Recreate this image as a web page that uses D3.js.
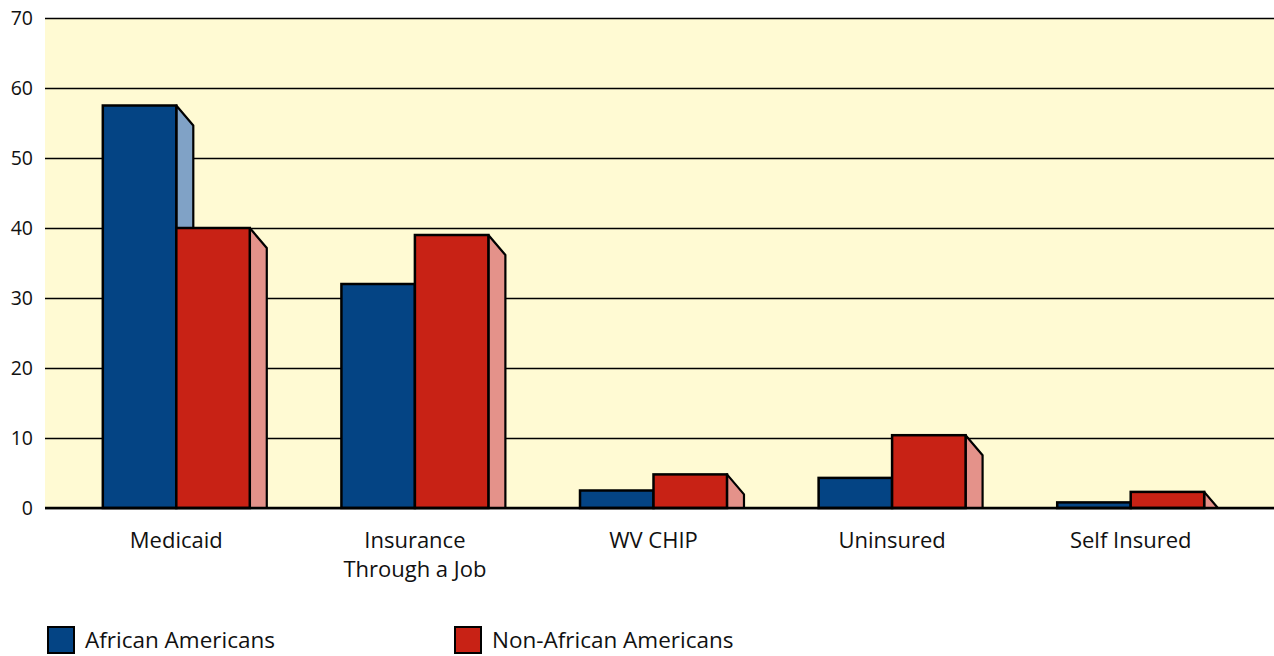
<!DOCTYPE html>
<html><head><meta charset="utf-8">
<script src="https://cdn.jsdelivr.net/npm/d3@7"></script>
<style>body{margin:0;background:#fff;}svg{display:block;}</style>
</head><body>
<svg id="c" width="1274" height="656"></svg>
<script>
const categories = ["Medicaid", "Insurance\nThrough a Job", "WV CHIP", "Uninsured", "Self Insured"];
const seriesNames = ["African Americans", "Non-African Americans"];
const africanAmericans = [57.5, 32, 2.5, 4.3, 0.8];
const nonAfricanAmericans = [40, 39, 4.8, 10.4, 2.3];
const yTicks = [0, 10, 20, 30, 40, 50, 60, 70];

(function () {
const seriesValues = [africanAmericans, nonAfricanAmericans];
const front = ["#044484", "#c82215"];
const side = ["#80a2c6", "#e4928a"];
const font = "Open Sans, Noto Sans, sans-serif";

const svg = d3.select("#c");
const pLeft = 45, pRight = 1274, pTop = 18, pBottom = 508;
const y = d3.scaleLinear().domain([0, 70]).range([pBottom, pTop]);
const x = d3.scaleBand().domain(categories).range([57, 1250]).padding(0);
const bw = x.bandwidth();
const xs = d3.scaleBand().domain(seriesNames).range([bw * 0.192, bw * 0.808]).padding(0);
const dx = 17, dy = 20;

svg.append("rect").attr("x", pLeft).attr("y", pTop).attr("width", pRight - pLeft).attr("height", pBottom - pTop).attr("fill", "#fffad3");

const yAxis = d3.axisLeft(y).tickValues(yTicks).tickSize(-(pRight - pLeft)).tickPadding(12);
const ga = svg.append("g").attr("transform", `translate(${pLeft},0)`).call(yAxis);
ga.select(".domain").remove();
ga.selectAll(".tick line").attr("stroke", "#000").attr("stroke-width", 1.3);
ga.selectAll(".tick text").attr("font-family", font).attr("font-size", 19.5).attr("fill", "#111");

seriesNames.forEach((s, si) => {
  const g = svg.append("g");
  categories.forEach((c, ci) => {
    const v = seriesValues[si][ci];
    const x0 = x(c) + xs(s), x1 = x0 + xs.bandwidth();
    const ty = y(v), by = y(0);
    let pts;
    if (ty + dy <= by) {
      pts = [[x1, ty], [x1 + dx, ty + dy], [x1 + dx, by], [x1, by]];
    } else {
      pts = [[x1, ty], [x1 + dx * (by - ty) / dy, by], [x1, by]];
    }
    g.append("polygon").attr("points", pts.map(p => p.join(",")).join(" "))
      .attr("fill", side[si]).attr("stroke", "#000").attr("stroke-width", 2.2).attr("stroke-linejoin", "round");
    g.append("rect").attr("x", x0).attr("y", ty).attr("width", x1 - x0).attr("height", by - ty)
      .attr("fill", front[si]).attr("stroke", "#000").attr("stroke-width", 2.5);
  });
});

svg.append("line").attr("x1", pLeft).attr("x2", pRight).attr("y1", pBottom).attr("y2", pBottom).attr("stroke", "#000").attr("stroke-width", 2.5);

categories.forEach(c => {
  const lines = c.split("\n");
  const t = svg.append("text").attr("x", x(c) + bw / 2).attr("y", 548).attr("text-anchor", "middle")
    .attr("font-family", font).attr("font-size", 22).attr("fill", "#111");
  lines.forEach((l, i) => t.append("tspan").attr("x", x(c) + bw / 2).attr("dy", i === 0 ? 0 : 29).text(l));
});

const legX = [48, 455];
seriesNames.forEach((s, i) => {
  svg.append("rect").attr("x", legX[i]).attr("y", 627).attr("width", 26).attr("height", 26)
    .attr("fill", front[i]).attr("stroke", "#000").attr("stroke-width", 2);
  svg.append("text").attr("x", legX[i] + 37).attr("y", 648).attr("font-family", font)
    .attr("font-size", 22.5).attr("fill", "#111").text(s);
});
})();
</script>
</body></html>
